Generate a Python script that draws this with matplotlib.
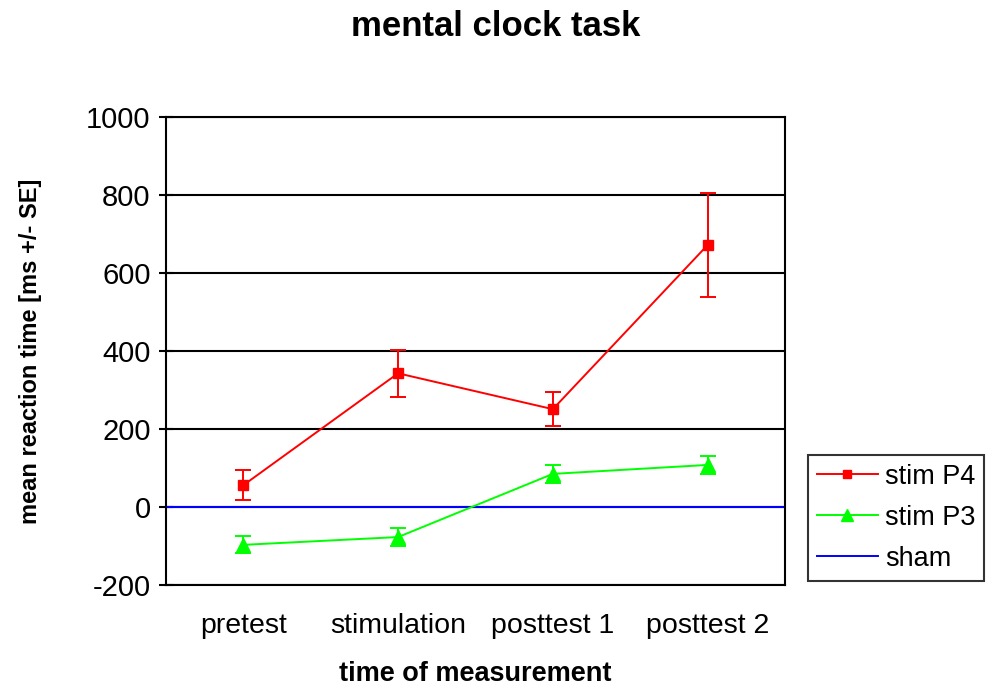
import numpy as np
import matplotlib.pyplot as plt
from matplotlib.lines import Line2D

plt.rcParams['font.family'] = ['Liberation Sans', 'DejaVu Sans']
plt.rcParams['axes.unicode_minus'] = False

categories = ['pretest', 'stimulation', 'posttest 1', 'posttest 2']
p4_mean = [56, 343, 251, 672]
p4_se = [38, 60, 44, 133]
p3_mean = [-97, -77, 85, 108]
p3_se = [22, 22, 23, 24]
sham_mean = [0, 0, 0, 0]

fig = plt.figure(figsize=(9.92, 6.88), dpi=100)
ax = fig.add_axes([0.1673, 0.1497, 0.624, 0.680])

x = np.arange(len(categories))

# gridlines
ax.set_yticks(np.arange(-200, 1001, 200))
ax.yaxis.grid(True, color='black', lw=1.5)
ax.set_axisbelow(True)

ax.axhline(sham_mean[0], color='#0000ff', lw=1.5, zorder=2)

ax.errorbar(x, p4_mean, yerr=p4_se, color='#ff0000', lw=1.4, marker='s', ms=7,
            capsize=5.5, capthick=1.4, elinewidth=1.4, zorder=3)
ax.errorbar(x, p3_mean, yerr=p3_se, color='#00ff00', lw=1.4, marker='^', ms=10,
            capsize=5.5, capthick=1.4, elinewidth=1.4, zorder=3)

ax.set_xlim(-0.5, 3.5)
ax.set_ylim(-200, 1000)
ax.set_xticks(x)
ax.set_xticklabels(categories)
ax.tick_params(axis='x', length=0, pad=20, labelsize=20.5)
ax.tick_params(axis='y', direction='inout', length=10, width=1.5, labelsize=21, pad=6)
for s in ax.spines.values():
    s.set_linewidth(1.5)
    s.set_color('black')

ax.set_xlabel('time of measurement', fontsize=19.5, fontweight='bold', labelpad=16)
ax.set_ylabel('mean reaction time [ms +/- SE]', fontsize=17, fontweight='bold', labelpad=32)
fig.suptitle('mental clock task', fontsize=25, fontweight='bold', y=0.985)

handles = [Line2D([], [], color='#ff0000', marker='s', ms=6, lw=1.4),
           Line2D([], [], color='#00ff00', marker='^', ms=8, lw=1.4),
           Line2D([], [], color='#0000ff', lw=1.4)]
leg = fig.legend(handles, ['stim P4', 'stim P3', 'sham'], loc='upper left',
                 bbox_to_anchor=(808 / 992, 1 - 455 / 688), borderaxespad=0, fontsize=19.5,
                 frameon=True, fancybox=False, edgecolor='black', handlelength=2.25,
                 borderpad=0.33, labelspacing=0.55, handletextpad=0.26)
leg.get_frame().set_linewidth(1.5)

fig.savefig('out.png', dpi=100)
